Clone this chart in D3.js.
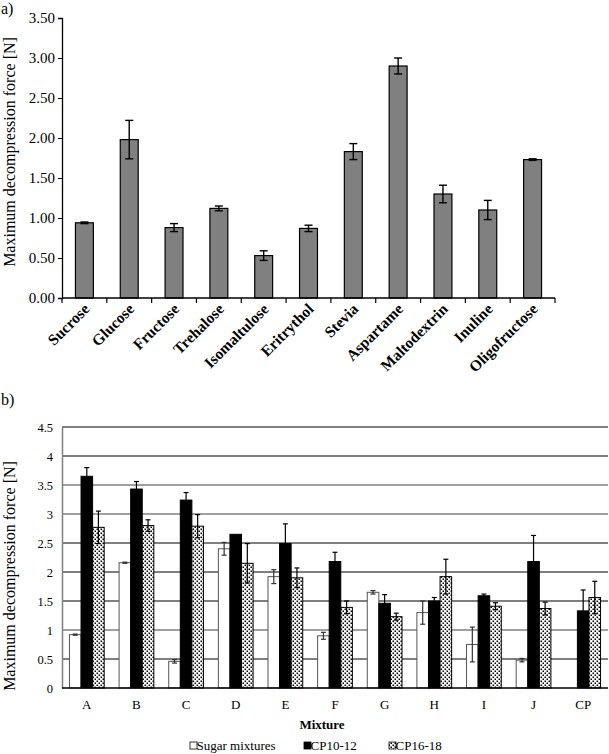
<!DOCTYPE html>
<html>
<head>
<meta charset="utf-8">
<script src="https://cdn.jsdelivr.net/npm/d3@7"></script>
<style>
  html, body { margin: 0; padding: 0; background: #fff; }
  svg { display: block; font-family: "Liberation Serif", "Times New Roman", serif; }
</style>
</head>
<body>
<script>
// ---------- Data: panel a ----------
const sugars = ["Sucrose", "Glucose", "Fructose", "Trehalose", "Isomaltulose", "Eritrythol",
                "Stevia", "Aspartame", "Maltodextrin", "Inuline", "Oligofructose"];
const sugarMeans  = [0.94, 1.98, 0.88, 1.12, 0.53, 0.87, 1.83, 2.90, 1.30, 1.10, 1.73];
const sugarErrors = [0.01, 0.24, 0.05, 0.03, 0.06, 0.04, 0.10, 0.10, 0.11, 0.12, 0.01];
const yTicksA = [0, 0.5, 1, 1.5, 2, 2.5, 3, 3.5];

// ---------- Data: panel b ----------
const mixtures = ["A", "B", "C", "D", "E", "F", "G", "H", "I", "J", "CP"];
const seriesNames = ["Sugar mixtures", "CP10-12", "CP16-18"];
const sugarMixMeans = [0.92, 2.16, 0.46, 2.40, 1.92, 0.90, 1.65, 1.30, 0.75, 0.48, null];
const sugarMixErr   = [0.01, 0.01, 0.03, 0.11, 0.12, 0.06, 0.03, 0.20, 0.30, 0.03, null];
const cp1012Means   = [3.65, 3.43, 3.24, 2.65, 2.49, 2.18, 1.46, 1.50, 1.59, 2.18, 1.33];
const cp1012Err     = [0.15, 0.13, 0.13, 0.00, 0.34, 0.16, 0.15, 0.06, 0.03, 0.45, 0.36];
const cp1618Means   = [2.77, 2.80, 2.79, 2.15, 1.90, 1.39, 1.23, 1.92, 1.41, 1.37, 1.56];
const cp1618Err     = [0.28, 0.10, 0.20, 0.34, 0.17, 0.11, 0.06, 0.30, 0.06, 0.11, 0.28];
const yTicksB = [0, 0.5, 1, 1.5, 2, 2.5, 3, 3.5, 4, 4.5];

// ---------- Styles ----------
const gridGray = new Set([1, 3, 3.5]);

const W = 609, H = 754;
const svg = d3.select("body").append("svg").attr("width", W).attr("height", H);

const defs = svg.append("defs");
const pat = defs.append("pattern").attr("id", "dots").attr("patternUnits", "userSpaceOnUse")
  .attr("width", 4).attr("height", 4);
pat.append("rect").attr("width", 4).attr("height", 4).attr("fill", "#fff");
pat.append("rect").attr("x", 0.5).attr("y", 0.5).attr("width", 1.6).attr("height", 1.6).attr("fill", "#000");
pat.append("rect").attr("x", 2.5).attr("y", 2.5).attr("width", 1.6).attr("height", 1.6).attr("fill", "#000");

// =================== Panel a ===================
const ga = svg.append("g");
const xA = d3.scaleBand().domain(sugars).range([62, 555]).paddingInner(0.6).paddingOuter(0.3);
const yA = d3.scaleLinear().domain([0, 3.5]).range([298, 18]);
const stepA = xA.step();

ga.append("text").attr("x", 1).attr("y", 14).attr("font-size", 16).text("a)");

// y axis
const yAxisA = d3.axisLeft(yA).tickValues(yTicksA).tickFormat(d3.format(".2f")).tickSize(4).tickPadding(3);
const gyA = ga.append("g").attr("transform", "translate(62,0)").call(yAxisA);
gyA.select(".domain").attr("stroke", "#000").attr("stroke-width", 1.3);
gyA.selectAll(".tick line").attr("stroke", "#000");
gyA.selectAll(".tick text").attr("font-size", 15).attr("font-family", "Liberation Serif").attr("fill", "#000");

// bars
ga.selectAll("rect.bar").data(sugars).join("rect")
  .attr("x", d => xA(d)).attr("width", xA.bandwidth())
  .attr("y", (d, i) => yA(sugarMeans[i]))
  .attr("height", (d, i) => yA(0) - yA(sugarMeans[i]))
  .attr("fill", "#808080").attr("stroke", "#000").attr("stroke-width", 1.2);

// error bars
const errA = ga.append("g").attr("stroke", "#000").attr("stroke-width", 1.4);
sugars.forEach((s, i) => {
  const cx = xA(s) + xA.bandwidth() / 2;
  const y1 = yA(sugarMeans[i] + sugarErrors[i]), y2 = yA(sugarMeans[i] - sugarErrors[i]);
  errA.append("line").attr("x1", cx).attr("x2", cx).attr("y1", y1).attr("y2", y2);
  errA.append("line").attr("x1", cx - 4).attr("x2", cx + 4).attr("y1", y1).attr("y2", y1);
  errA.append("line").attr("x1", cx - 4).attr("x2", cx + 4).attr("y1", y2).attr("y2", y2);
});

// x axis
ga.append("line").attr("x1", 62).attr("x2", 555).attr("y1", yA(0)).attr("y2", yA(0))
  .attr("stroke", "#000").attr("stroke-width", 1.3);
d3.range(sugars.length + 1).forEach(i => {
  const x = 62 + i * stepA;
  ga.append("line").attr("x1", x).attr("x2", x).attr("y1", yA(0)).attr("y2", yA(0) + 5)
    .attr("stroke", "#000").attr("stroke-width", 1.2);
});
ga.selectAll("text.xl").data(sugars).join("text")
  .attr("transform", d => `translate(${xA(d) + xA.bandwidth() / 2 + 6},${yA(0) + 12}) rotate(-45)`)
  .attr("text-anchor", "end").attr("font-size", 15.5).attr("font-weight", "bold")
  .text(d => d);

ga.append("text").attr("transform", "translate(15,152) rotate(-90)")
  .attr("text-anchor", "middle").attr("font-size", 16)
  .text("Maximum decompression force [N]");

// =================== Panel b ===================
const gb = svg.append("g");
const xB = d3.scaleBand().domain(mixtures).range([62, 608]).paddingInner(0.3).paddingOuter(0.15);
const xSub = d3.scaleBand().domain(seriesNames).range([0, xB.bandwidth()]);
const yB = d3.scaleLinear().domain([0, 4.5]).range([688, 427]);

gb.append("text").attr("x", 1).attr("y", 405).attr("font-size", 16).text("b)");

// gridlines
gb.selectAll("line.grid").data(yTicksB.filter(d => d > 0)).join("line")
  .attr("x1", 62).attr("x2", 608).attr("y1", d => yB(d)).attr("y2", d => yB(d))
  .attr("stroke", d => gridGray.has(d) ? "#808080" : "#000")
  .attr("stroke-width", d => gridGray.has(d) ? 1.5 : 1.1);

// y axis
const yAxisB = d3.axisLeft(yB).tickValues(yTicksB).tickFormat(d => String(d)).tickSize(0).tickPadding(9);
const gyB = gb.append("g").attr("transform", "translate(62,0)").call(yAxisB);
gyB.select(".domain").attr("stroke", "#808080").attr("stroke-width", 1.5);
gyB.selectAll(".tick text").attr("font-size", 12.5).attr("font-family", "Liberation Serif").attr("fill", "#000");

const seriesData = [
  { name: seriesNames[0], means: sugarMixMeans, errs: sugarMixErr, fill: "#fff", stroke: "#555" },
  { name: seriesNames[1], means: cp1012Means, errs: cp1012Err, fill: "#000", stroke: "#000" },
  { name: seriesNames[2], means: cp1618Means, errs: cp1618Err, fill: "url(#dots)", stroke: "#000" }
];

seriesData.forEach(s => {
  mixtures.forEach((m, i) => {
    const v = s.means[i];
    if (v == null) return;
    gb.append("rect")
      .attr("x", xB(m) + xSub(s.name)).attr("width", xSub.bandwidth())
      .attr("y", yB(v)).attr("height", yB(0) - yB(v))
      .attr("fill", s.fill).attr("stroke", s.stroke).attr("stroke-width", 1);
  });
});
const errB = gb.append("g").attr("stroke-width", 1.2);
seriesData.forEach(s => {
  mixtures.forEach((m, i) => {
    const v = s.means[i], e = s.errs[i];
    if (v == null || !e) return;
    const cx = xB(m) + xSub(s.name) + xSub.bandwidth() / 2;
    const y1 = yB(v + e), y2 = yB(v - e);
    const col = s.name === seriesNames[0] ? "#333" : "#000";
    errB.append("line").attr("x1", cx).attr("x2", cx).attr("y1", y1).attr("y2", y2).attr("stroke", col);
    errB.append("line").attr("x1", cx - 2.5).attr("x2", cx + 2.5).attr("y1", y1).attr("y2", y1).attr("stroke", col);
    errB.append("line").attr("x1", cx - 2.5).attr("x2", cx + 2.5).attr("y1", y2).attr("y2", y2).attr("stroke", col);
  });
});

// x axis
gb.append("line").attr("x1", 62).attr("x2", 608).attr("y1", yB(0)).attr("y2", yB(0))
  .attr("stroke", "#000").attr("stroke-width", 1.3);
gb.selectAll("text.xl").data(mixtures).join("text")
  .attr("x", d => xB(d) + xB.bandwidth() / 2).attr("y", 709)
  .attr("text-anchor", "middle").attr("font-size", 13).text(d => d);

gb.append("text").attr("x", 322).attr("y", 729).attr("text-anchor", "middle")
  .attr("font-size", 13).attr("font-weight", "bold").text("Mixture");

gb.append("text").attr("transform", "translate(15,576) rotate(-90)")
  .attr("text-anchor", "middle").attr("font-size", 16)
  .text("Maximum decompression force [N]");

// legend
const legendX = [190, 304, 389];
seriesData.forEach((s, i) => {
  gb.append("rect").attr("x", legendX[i]).attr("y", 742).attr("width", 7).attr("height", 7)
    .attr("fill", s.fill).attr("stroke", "#000").attr("stroke-width", 0.8);
  gb.append("text").attr("x", legendX[i] + 6.5).attr("y", 750).attr("font-size", 13).text(s.name);
});
</script>
</body>
</html>
